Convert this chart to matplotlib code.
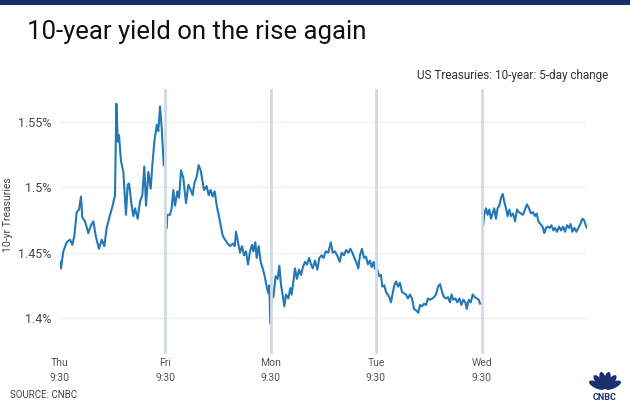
import matplotlib
matplotlib.use("Agg")
import matplotlib.pyplot as plt
import numpy as np
from matplotlib.patches import Ellipse, Rectangle

# 10-year Treasury yield, time in trading days since Thu 9:30
days = [0.005, 0.014, 0.036, 0.068, 0.100, 0.122, 0.141, 0.163, 0.185, 0.204,
        0.216, 0.242, 0.273, 0.299, 0.321, 0.343, 0.374, 0.400, 0.425, 0.447,
        0.479, 0.501, 0.526, 0.539, 0.552, 0.564, 0.583, 0.605, 0.630, 0.646,
        0.659, 0.684, 0.700, 0.716, 0.741, 0.763, 0.785, 0.804, 0.820, 0.842,
        0.864, 0.880, 0.899, 0.922, 0.937, 0.953, 0.969, 0.988,
        1.000,
        1.016, 1.022, 1.047, 1.063, 1.079, 1.095, 1.117, 1.133, 1.152, 1.174,
        1.199, 1.221, 1.244, 1.262, 1.278, 1.300, 1.319, 1.338, 1.357, 1.370,
        1.395, 1.414, 1.433, 1.452, 1.471, 1.490, 1.509, 1.528, 1.547, 1.569,
        1.594, 1.616, 1.642, 1.661, 1.673, 1.692, 1.711, 1.730, 1.749, 1.768,
        1.787, 1.806, 1.825, 1.837, 1.856, 1.869, 1.888, 1.907, 1.926, 1.945,
        1.964, 1.979, 1.989, 1.998, 2.011, 2.027, 2.049, 2.068, 2.084, 2.100,
        2.115, 2.131, 2.147, 2.169, 2.188, 2.200, 2.219, 2.232, 2.251, 2.270,
        2.289, 2.308, 2.327, 2.346, 2.365, 2.384, 2.400, 2.422, 2.444, 2.463,
        2.485, 2.504, 2.523, 2.548, 2.571, 2.590, 2.611, 2.637, 2.656, 2.675,
        2.697, 2.716, 2.738, 2.757, 2.776, 2.795, 2.817, 2.832, 2.848, 2.867,
        2.886, 2.905, 2.924, 2.943, 2.959, 2.978, 2.988, 3.012, 3.031, 3.047,
        3.060, 3.079, 3.095, 3.111, 3.126, 3.142, 3.158, 3.174, 3.190, 3.209,
        3.227, 3.246, 3.265, 3.284, 3.303, 3.322, 3.341, 3.360, 3.379, 3.401,
        3.417, 3.436, 3.455, 3.474, 3.493, 3.512, 3.534, 3.550, 3.569, 3.588,
        3.607, 3.626, 3.645, 3.664, 3.682, 3.701, 3.717, 3.733, 3.752, 3.771,
        3.790, 3.809, 3.828, 3.847, 3.860, 3.879, 3.898, 3.917, 3.936, 3.955,
        3.974, 3.986,
        4.000,
        4.017, 4.026, 4.043, 4.058, 4.074, 4.090, 4.106, 4.121, 4.137, 4.153,
        4.169, 4.185, 4.201, 4.216, 4.232, 4.248, 4.264, 4.280, 4.299, 4.318,
        4.336, 4.355, 4.374, 4.393, 4.412, 4.431, 4.450, 4.469, 4.488, 4.507,
        4.523, 4.539, 4.559, 4.578, 4.596, 4.612, 4.628, 4.647, 4.663, 4.682,
        4.697, 4.716, 4.735, 4.754, 4.773, 4.792, 4.811, 4.829, 4.845, 4.861,
        4.880, 4.899, 4.918, 4.937, 4.956, 4.972, 4.988, 5.000]

yields = [1.443, 1.438, 1.451, 1.458, 1.460, 1.456, 1.463, 1.481, 1.483, 1.493,
          1.477, 1.474, 1.465, 1.471, 1.474, 1.463, 1.453, 1.460, 1.455, 1.469,
          1.479, 1.485, 1.494, 1.564, 1.535, 1.540, 1.520, 1.512, 1.479, 1.502,
          1.503, 1.486, 1.478, 1.484, 1.476, 1.489, 1.494, 1.516, 1.486, 1.512,
          1.499, 1.517, 1.535, 1.548, 1.543, 1.562, 1.545, 1.517,
          np.nan,
          1.469, 1.479, 1.479, 1.484, 1.498, 1.486, 1.497, 1.492, 1.513, 1.507,
          1.488, 1.502, 1.498, 1.494, 1.503, 1.508, 1.517, 1.513, 1.504, 1.498,
          1.501, 1.494, 1.498, 1.493, 1.497, 1.486, 1.479, 1.471, 1.463, 1.460,
          1.457, 1.455, 1.457, 1.455, 1.466, 1.458, 1.450, 1.455, 1.448, 1.451,
          1.441, 1.451, 1.456, 1.451, 1.458, 1.446, 1.455, 1.443, 1.438, 1.432,
          1.424, 1.419, 1.425, 1.396, 1.418, 1.416, 1.432, 1.430, 1.440, 1.425,
          1.418, 1.409, 1.418, 1.415, 1.423, 1.418, 1.429, 1.438, 1.430, 1.437,
          1.433, 1.439, 1.443, 1.441, 1.446, 1.441, 1.438, 1.444, 1.437, 1.446,
          1.448, 1.446, 1.451, 1.450, 1.458, 1.450, 1.451, 1.447, 1.443, 1.450,
          1.448, 1.452, 1.450, 1.453, 1.450, 1.446, 1.442, 1.438, 1.448, 1.453,
          1.446, 1.447, 1.441, 1.444, 1.439, 1.443, 1.438, 1.437, 1.432, 1.433,
          1.424, 1.425, 1.420, 1.418, 1.416, 1.412, 1.419, 1.425, 1.428, 1.424,
          1.427, 1.420, 1.419, 1.418, 1.415, 1.418, 1.415, 1.407, 1.406, 1.404,
          1.410, 1.409, 1.411, 1.410, 1.415, 1.414, 1.415, 1.416, 1.418, 1.424,
          1.426, 1.420, 1.416, 1.415, 1.416, 1.412, 1.418, 1.414, 1.415, 1.412,
          1.415, 1.410, 1.414, 1.412, 1.407, 1.414, 1.412, 1.418, 1.416, 1.415,
          1.414, 1.411,
          np.nan,
          1.471, 1.479, 1.484, 1.479, 1.483, 1.476, 1.480, 1.484, 1.476, 1.484,
          1.486, 1.492, 1.495, 1.489, 1.484, 1.478, 1.483, 1.478, 1.480, 1.474,
          1.483, 1.481, 1.480, 1.479, 1.483, 1.487, 1.484, 1.480, 1.481, 1.478,
          1.480, 1.474, 1.472, 1.470, 1.465, 1.469, 1.470, 1.469, 1.471, 1.467,
          1.469, 1.466, 1.470, 1.467, 1.470, 1.466, 1.471, 1.469, 1.472, 1.466,
          1.469, 1.466, 1.469, 1.472, 1.476, 1.475, 1.471, 1.469]

day_ticks = [0, 1, 2, 3, 4]
day_labels = ["Thu\n9:30", "Fri\n9:30", "Mon\n9:30", "Tue\n9:30", "Wed\n9:30"]
session_starts = [1, 2, 3, 4]
y_ticks = [1.4, 1.45, 1.5, 1.55]
y_labels = ["1.4%", "1.45%", "1.5%", "1.55%"]

plt.rcParams['font.family'] = ['Roboto', 'DejaVu Sans']

fig = plt.figure(figsize=(6.3, 4.04), dpi=100)
fig.patch.set_facecolor("white")

# navy strip at the very top
fig.add_artist(Rectangle((0, 1 - 5 / 404), 1, 5 / 404, transform=fig.transFigure,
                         color="#13306a", lw=0))

fig.text(27 / 630, 1 - 32 / 404, "10-year yield on the rise again",
         fontsize=18.5, color="#111111", va="center", ha="left")
fig.text(608 / 630, 1 - 76 / 404, "US Treasuries: 10-year: 5-day change",
         fontsize=8.5, color="#333333", va="center", ha="right")
fig.text(10 / 630, 1 - 395 / 404, "SOURCE: CNBC", fontsize=7,
         color="#444444", va="center", ha="left")

ax = fig.add_axes([59.5 / 630, 1 - 340 / 404, 527.5 / 630, 250 / 404])
ax.plot(days, yields, color="#2478b5", lw=1.5, zorder=2)

for d in session_starts:
    ax.axvline(d, ymin=-0.048, ymax=1.0, color="#d0d9e4", lw=2, zorder=3,
               clip_on=False)

ax.set_xlim(0, 5)
ax.set_ylim(1.3832, 1.5745)
ax.set_yticks(y_ticks)
ax.set_yticklabels(y_labels)
ax.set_xticks(day_ticks)
ax.set_xticklabels(day_labels, linespacing=1.65)
ax.tick_params(axis="y", length=0, pad=6, labelsize=9, labelcolor="#444444")
ax.tick_params(axis="x", length=0, pad=13, labelsize=7.5, labelcolor="#555555")
ax.grid(axis="y", color="#eeeeee", lw=1, zorder=0)
for s in ax.spines.values():
    s.set_visible(False)
ax.set_ylabel("10-yr Treasuries", fontsize=7.5, color="#444444")
ax.yaxis.set_label_coords(-0.089, 0.5)

# rough CNBC peacock in a small equal-aspect axes
lax = fig.add_axes([586 / 630, 1 - 402 / 404, 38 / 630, 36 / 404])
lax.set_xlim(-19, 19)
lax.set_ylim(-10, 26)
lax.set_aspect("equal")
lax.axis("off")
for ang in [-65, -39, -13, 13, 39, 65]:
    r = np.radians(ang)
    lax.add_patch(Ellipse((9 * np.sin(r), 3 + 9 * np.cos(r)), 6.5, 17,
                          angle=-ang, color="#1b2f6e", lw=0))
lax.text(0, -5, "CNBC", fontsize=6.5, fontweight="bold",
         color="#1b2f6e", ha="center", va="center")

fig.savefig("out.png", dpi=100)
